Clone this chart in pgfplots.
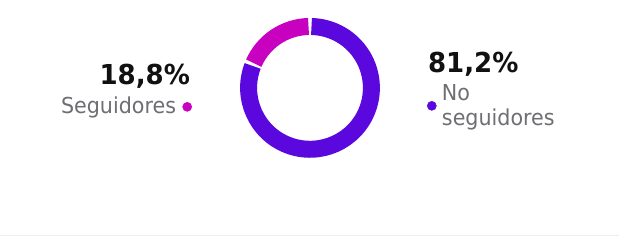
\documentclass[border=0pt]{standalone}
\usepackage{pgfplots}
\usepackage{pgfplotstable}
\usepackage{fontspec}
\setmainfont{DejaVu Sans}
\newfontfamily\lblfont[FakeStretch=0.94]{DejaVu Sans}
\newfontfamily\pctfont[FakeStretch=0.95]{DejaVu Sans Bold}
\pgfplotsset{compat=1.18}
\definecolor{cMag}{HTML}{C800C0}
\definecolor{cPur}{HTML}{5A08DE}
\definecolor{cGray}{HTML}{6E6E73}
\definecolor{cText}{HTML}{111111}
\definecolor{cLine}{HTML}{EEEEEE}
\pgfplotstableread{
label share
Seguidores 18.8
NoSeguidores 81.2
}\donutdata
\begin{document}
\begin{tikzpicture}
\pgfplotstablegetelem{0}{share}\of\donutdata \let\shareA\pgfplotsretval
\pgfplotstablegetelem{1}{share}\of\donutdata \let\shareB\pgfplotsretval
\begin{axis}[
  width=619pt, height=248pt, scale only axis,
  xmin=0, xmax=619, ymin=0, ymax=248, y dir=reverse,
  hide axis, clip=false,
]
\fill[white] (rel axis cs:0,0) rectangle (rel axis cs:1,1);
\draw[cLine, line width=1pt] (axis cs:0,236) -- (axis cs:619,236);
% donut
\pgfmathsetmacro{\angA}{90+3.6*\shareA}
\pgfmathsetmacro{\gap}{1.4}
\draw[cMag, line width=17pt] ([shift={(90+\gap:61.5pt)}]axis cs:310,88) arc[start angle=90+\gap, end angle=\angA-\gap, radius=61.5pt];
\draw[cPur, line width=17pt] ([shift={(\angA+\gap:61.5pt)}]axis cs:310,88) arc[start angle=\angA+\gap, end angle=450-\gap, radius=61.5pt];
% legend dots
\addplot[only marks, mark=*, mark size=4.6pt, cMag] coordinates {(187,107)};
\addplot[only marks, mark=*, mark size=4.6pt, cPur] coordinates {(432,106)};
% texts
\node[anchor=base east, inner sep=0pt, text=cText, font=\fontsize{27.5}{30}\pctfont] at (axis cs:190,85) {18,8\%};
\node[anchor=base east, inner sep=0pt, text=cGray, font=\fontsize{22}{24}\lblfont] at (axis cs:176,114) {Seguidores};
\node[anchor=base west, inner sep=0pt, text=cText, font=\fontsize{27.5}{30}\pctfont] at (axis cs:428,73) {81,2\%};
\node[anchor=base west, inner sep=0pt, text=cGray, font=\fontsize{22}{24}\lblfont] at (axis cs:442,101) {No};
\node[anchor=base west, inner sep=0pt, text=cGray, font=\fontsize{22}{24}\lblfont] at (axis cs:442,126) {seguidores};
\end{axis}
\end{tikzpicture}
\end{document}
